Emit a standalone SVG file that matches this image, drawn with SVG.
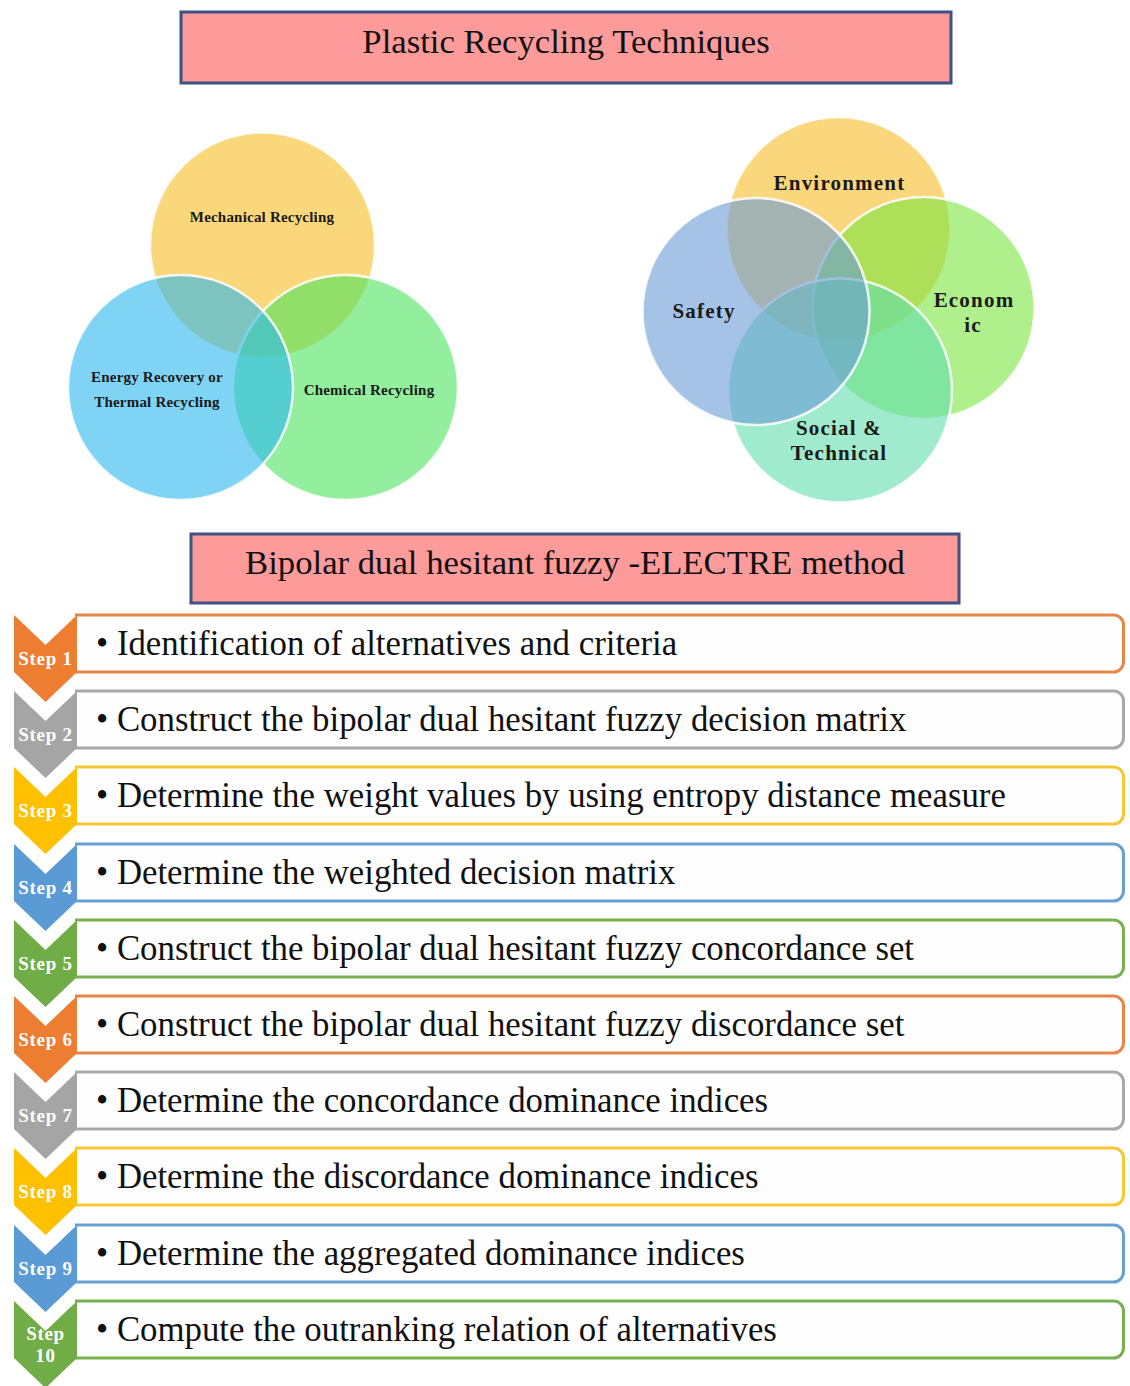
<svg xmlns="http://www.w3.org/2000/svg" width="1130" height="1386" viewBox="0 0 1130 1386">
  <style>
    .title-box { fill: #fd9a9a; stroke: #3f5185; stroke-width: 3; }
    .title-text { font-family: "Liberation Serif", "Times New Roman", serif; font-size: 34.7px; fill: #111; text-anchor: middle; }
    .venn { fill-opacity: 0.6; stroke: #ffffff; stroke-opacity: 0.85; stroke-width: 2.5; }
    .venn-s { font-family: "Liberation Serif", "Times New Roman", serif; font-weight: bold; font-size: 15px; fill: #1a1a1a; text-anchor: middle; letter-spacing: 0.2px; }
    .venn-l { font-family: "Liberation Serif", "Times New Roman", serif; font-weight: bold; font-size: 21px; fill: #1a1a1a; text-anchor: middle; letter-spacing: 1.2px; }
    .box { fill: #fefefe; stroke-width: 3; }
    .step-text { font-family: "Liberation Serif", "Times New Roman", serif; font-size: 34.8px; fill: #111; }
    .step-label { font-family: "Liberation Serif", "Times New Roman", serif; font-weight: bold; font-size: 19px; fill: #ffffff; text-anchor: middle; letter-spacing: 0.7px; }
    .orange { fill: #ed7d31; } .orange-s { stroke: #e8864a; }
    .gray { fill: #a5a5a5; } .gray-s { stroke: #a9a9a9; }
    .gold { fill: #ffc000; } .gold-s { stroke: #f8c734; }
    .blue { fill: #5b9bd5; } .blue-s { stroke: #6a9fd2; }
    .green { fill: #70ad47; } .green-s { stroke: #78b050; }
  </style>
  <defs>
    <!-- down-pointing chevron, 63 wide, notch and tip 30 deep -->
    <polygon id="chev" points="14,0 45.5,30 77,0 77,57 45.5,87 14,57"/>
    <!-- text bar: square on the chevron side, rounded on the right -->
    <path id="bar" d="M75,0 H1113.5 A10,10 0 0 1 1123.5,10 V47 A10,10 0 0 1 1113.5,57 H75"/>
  </defs>

  <rect width="1130" height="1386" fill="#ffffff"/>

  <!-- headings -->
  <g id="title-recycling">
    <rect class="title-box" x="181" y="12" width="770" height="71"/>
    <text class="title-text" x="566" y="53">Plastic Recycling Techniques</text>
  </g>
  <g id="title-method">
    <rect class="title-box" x="191" y="534" width="768" height="69"/>
    <text class="title-text" x="575" y="574">Bipolar dual hesitant fuzzy -ELECTRE method</text>
  </g>

  <!-- recycling techniques Venn -->
  <g id="venn-techniques">
    <circle class="venn" cx="262.5" cy="245" r="112.5" fill="#f7bc23"/>
    <circle class="venn" cx="345.5" cy="387.5" r="112.5" fill="#4be45c"/>
    <circle class="venn" cx="180.5" cy="387.5" r="112.5" fill="#2ab7ee"/>
    <text class="venn-s" x="262" y="222">Mechanical Recycling</text>
    <text class="venn-s" x="157" y="382">Energy Recovery or</text>
    <text class="venn-s" x="157" y="407">Thermal Recycling</text>
    <text class="venn-s" x="369" y="395">Chemical Recycling</text>
  </g>

  <!-- criteria Venn -->
  <g id="venn-criteria">
    <circle class="venn" cx="838.5" cy="229" r="112" fill="#f7bc26"/>
    <circle class="venn" cx="923.5" cy="308" r="111" fill="#7ae63f"/>
    <circle class="venn" cx="840" cy="390.5" r="112" fill="#61deac"/>
    <circle class="venn" cx="756" cy="311.5" r="113.5" fill="#699bd5"/>
    <text class="venn-l" x="839.5" y="190">Environment</text>
    <text class="venn-l" x="704" y="318">Safety</text>
    <text class="venn-l" x="974" y="307">Econom</text>
    <text class="venn-l" x="973" y="332">ic</text>
    <text class="venn-l" x="839" y="435">Social &amp;</text>
    <text class="venn-l" x="839" y="460">Technical</text>
  </g>

  <!-- method steps -->
  <g id="step-1" transform="translate(0,615)">
    <use href="#bar" class="box orange-s"/>
    <use href="#chev" class="orange"/>
    <text class="step-label" x="45.5" y="50">Step 1</text>
    <text class="step-text" x="96" y="40">• Identification of alternatives and criteria</text>
  </g>
  <g id="step-2" transform="translate(0,691)">
    <use href="#bar" class="box gray-s"/>
    <use href="#chev" class="gray"/>
    <text class="step-label" x="45.5" y="50">Step 2</text>
    <text class="step-text" x="96" y="40">• Construct the bipolar dual hesitant fuzzy decision matrix</text>
  </g>
  <g id="step-3" transform="translate(0,767)">
    <use href="#bar" class="box gold-s"/>
    <use href="#chev" class="gold"/>
    <text class="step-label" x="45.5" y="50">Step 3</text>
    <text class="step-text" x="96" y="40">• Determine the weight values by using entropy distance measure</text>
  </g>
  <g id="step-4" transform="translate(0,844)">
    <use href="#bar" class="box blue-s"/>
    <use href="#chev" class="blue"/>
    <text class="step-label" x="45.5" y="50">Step 4</text>
    <text class="step-text" x="96" y="40">• Determine the weighted decision matrix</text>
  </g>
  <g id="step-5" transform="translate(0,920)">
    <use href="#bar" class="box green-s"/>
    <use href="#chev" class="green"/>
    <text class="step-label" x="45.5" y="50">Step 5</text>
    <text class="step-text" x="96" y="40">• Construct the bipolar dual hesitant fuzzy concordance set</text>
  </g>
  <g id="step-6" transform="translate(0,996)">
    <use href="#bar" class="box orange-s"/>
    <use href="#chev" class="orange"/>
    <text class="step-label" x="45.5" y="50">Step 6</text>
    <text class="step-text" x="96" y="40">• Construct the bipolar dual hesitant fuzzy discordance set</text>
  </g>
  <g id="step-7" transform="translate(0,1072)">
    <use href="#bar" class="box gray-s"/>
    <use href="#chev" class="gray"/>
    <text class="step-label" x="45.5" y="50">Step 7</text>
    <text class="step-text" x="96" y="40">• Determine the concordance dominance indices</text>
  </g>
  <g id="step-8" transform="translate(0,1148)">
    <use href="#bar" class="box gold-s"/>
    <use href="#chev" class="gold"/>
    <text class="step-label" x="45.5" y="50">Step 8</text>
    <text class="step-text" x="96" y="40">• Determine the discordance dominance indices</text>
  </g>
  <g id="step-9" transform="translate(0,1225)">
    <use href="#bar" class="box blue-s"/>
    <use href="#chev" class="blue"/>
    <text class="step-label" x="45.5" y="50">Step 9</text>
    <text class="step-text" x="96" y="40">• Determine the aggregated dominance indices</text>
  </g>
  <g id="step-10" transform="translate(0,1301)">
    <use href="#bar" class="box green-s"/>
    <use href="#chev" class="green"/>
    <text class="step-label" x="45.5" y="39">Step</text>
    <text class="step-label" x="45.5" y="61">10</text>
    <text class="step-text" x="96" y="40">• Compute the outranking relation of alternatives</text>
  </g>

  <!-- no connectors: the chevrons chain the steps -->
  <g id="connectors"/>
</svg>
